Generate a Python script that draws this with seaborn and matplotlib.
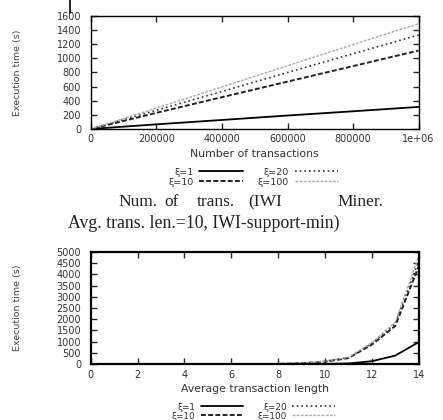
import seaborn as sns
import matplotlib.pyplot as plt
from matplotlib.lines import Line2D
import pandas as pd

sns.set_style("ticks")
plt.rcParams["font.family"] = ["DejaVu Sans"]

# data
labels = ["ξ=1", "ξ=10", "ξ=20", "ξ=100"]

n_trans = [10000, 200000, 400000, 600000, 800000, 1000000]
time_trans = {
    "ξ=1": [3, 65, 127, 190, 250, 312],
    "ξ=10": [10, 228, 450, 670, 890, 1110],
    "ξ=20": [12, 265, 530, 800, 1065, 1330],
    "ξ=100": [14, 295, 595, 895, 1195, 1490],
}

avg_len = [1, 2, 3, 4, 5, 6, 7, 8, 9, 10, 11, 12, 13, 14]
time_len = {
    "ξ=1": [0, 0, 0, 0, 0, 0, 0, 2, 5, 12, 30, 130, 380, 980],
    "ξ=10": [0, 0, 0, 0, 0, 1, 3, 10, 35, 110, 270, 870, 1700, 4350],
    "ξ=20": [0, 0, 0, 0, 0, 1, 4, 12, 40, 125, 290, 920, 1800, 4580],
    "ξ=100": [0, 0, 0, 0, 0, 1, 4, 14, 45, 135, 305, 960, 1870, 4800],
}

styles = {
    "ξ=1": dict(color="black", dashes=(None, None), lw=1.3),
    "ξ=10": dict(color="#222222", dashes=(2.5, 1.2), lw=1.4),
    "ξ=20": dict(color="#333333", dashes=(1, 1.8), lw=1.2),
    "ξ=100": dict(color="#aaaaaa", dashes=(2, 1), lw=1.0),
}

fig = plt.figure(figsize=(4.43, 4.20), dpi=100)
ax1 = fig.add_axes([0.205, 0.693, 0.740, 0.269])
ax2 = fig.add_axes([0.205, 0.133, 0.740, 0.267])


def draw(ax, x, series):
    for lab in labels:
        st = styles[lab]
        df = pd.DataFrame({"x": x, "y": series[lab]})
        sns.lineplot(data=df, x="x", y="y", ax=ax, color=st["color"], lw=st["lw"],
                     label=lab, legend=False)
        if st["dashes"][0] is not None:
            ax.lines[-1].set_dashes(st["dashes"])


draw(ax1, n_trans, time_trans)
draw(ax2, avg_len, time_len)

ax1.set_xlim(0, 1000000)
ax1.set_ylim(0, 1600)
ax1.set_xticks([0, 200000, 400000, 600000, 800000, 1000000])
ax1.set_xticklabels(["0", "200000", "400000", "600000", "800000", "1e+06"])
ax1.set_yticks(range(0, 1601, 200))
ax1.set_xlabel("Number of transactions", fontsize=7.8, color="#333333", labelpad=3)

ax2.set_xlim(0, 14)
ax2.set_ylim(0, 5000)
ax2.set_xticks(range(0, 15, 2))
ax2.set_yticks(range(0, 5001, 500))
ax2.set_xlabel("Average transaction length", fontsize=7.8, color="#333333", labelpad=3)

for ax, lw in [(ax1, 1.0), (ax2, 1.6)]:
    ax.set_ylabel("Execution time (s)", fontsize=6.8, color="#444444")
    ax.yaxis.set_label_coords(-0.21, 0.5)
    ax.tick_params(direction="in", top=True, right=True, length=4.5, width=1,
                   labelsize=7, labelcolor="#333333")
    ax.tick_params(axis="y", pad=7)
    ax.tick_params(axis="x", pad=4)
    for sp in ax.spines.values():
        sp.set_visible(True)
        sp.set_linewidth(lw)
        sp.set_color("black")

# legends in gnuplot style: label then sample
h1, l1 = ax1.get_legend_handles_labels()
fig.legend(h1, l1, loc="upper center", bbox_to_anchor=(0.572, 0.612), ncol=2,
           frameon=False, markerfirst=False, fontsize=6.8, handlelength=4.6,
           columnspacing=1.6, labelspacing=0.1, handletextpad=0.6,
           borderpad=0, labelcolor="#333333")
h2, l2 = ax2.get_legend_handles_labels()
fig.legend(h2, l2, loc="upper center", bbox_to_anchor=(0.572, 0.052), ncol=2,
           frameon=False, markerfirst=False, fontsize=6.4, handlelength=4.8,
           columnspacing=1.6, labelspacing=0.0, handletextpad=0.6,
           borderpad=0, labelcolor="#333333")

# caption between the two plots (justified first line)
cap_words = ["Num.", "of", "trans.", "(IWI", "Miner."]
cap_x = [118, 164, 197, 248, 337]
for w, xp in zip(cap_words, cap_x):
    fig.text(xp / 443, 1 - 202 / 420, w, family="Liberation Serif", fontsize=12.5,
             ha="left", va="center", color="#222222")
fig.text(68 / 443, 1 - 223 / 420, "Avg. trans. len.=10, IWI-support-min)",
         family="Liberation Serif", fontsize=12.8, ha="left", va="center",
         color="#222222")

# small crop mark at top left
fig.add_artist(Line2D([70 / 443, 70 / 443], [1.0, 1 - 13 / 420], color="black", lw=1.2))

fig.savefig("out.png", dpi=100)
plt.close(fig)
